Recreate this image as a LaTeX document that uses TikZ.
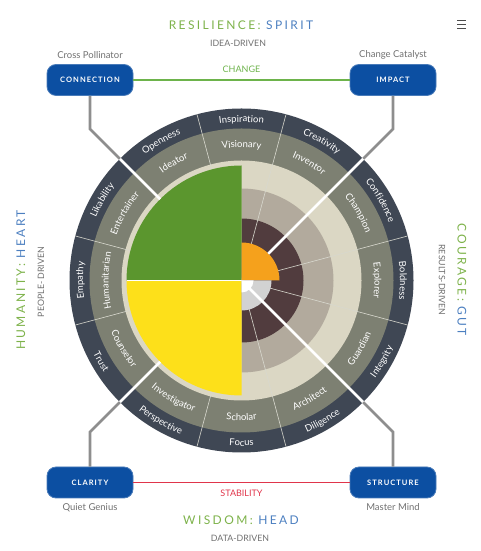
\documentclass[tikz,border=0pt]{standalone}
\usepackage{fontspec}
\setmainfont{Lato}
\newfontfamily\headfont[LetterSpace=20]{Lato}
\newfontfamily\boxfont[LetterSpace=14]{Lato}
\newfontfamily\ringfont[LetterSpace=6]{Lato}
\usetikzlibrary{decorations.text,positioning}

\definecolor{ringnavy}{HTML}{3F4754}
\definecolor{ringsage}{HTML}{7D8072}
\definecolor{ringcream}{HTML}{DBD7C4}
\definecolor{ringtan}{HTML}{B2AA9D}
\definecolor{ringbrown}{HTML}{513C3E}
\definecolor{quadgreen}{HTML}{5B962E}
\definecolor{quadyellow}{HTML}{FDE01A}
\definecolor{quadorange}{HTML}{F5A11C}
\definecolor{quadgrey}{HTML}{D2D2D2}
\definecolor{spokecolor}{HTML}{D8D8CE}
\definecolor{boxblue}{HTML}{0C4FA2}
\definecolor{linkgrey}{HTML}{8E8E8E}
\definecolor{changegreen}{HTML}{6DB34B}
\definecolor{stabred}{HTML}{E0354B}
\definecolor{headgreen}{HTML}{7DB24A}
\definecolor{headblue}{HTML}{4C7FC0}
\definecolor{textgrey}{HTML}{707070}

\tikzset{
  catbox/.style={draw=boxblue!75!white, line width=0.8pt, fill=boxblue,
    rounded corners=9pt, minimum width=86pt, minimum height=31pt,
    text=white, font=\boxfont\bfseries\fontsize{7.5}{8}\selectfont},
  subtitle/.style={text=textgrey, font=\fontsize{9.5}{10}\selectfont, inner sep=1pt},
  capsline/.style={text=textgrey, font=\fontsize{8.8}{10}\selectfont, inner sep=1pt},
  heading/.style={font=\headfont\fontsize{12}{13}\selectfont, inner sep=1pt},
  link/.style={draw=linkgrey, line width=2.6pt},
  innerlink/.style={draw=white, line width=2.6pt},
  spoke/.style={draw=spokecolor, line width=0.6pt},
  ringtext/.style={decorate, decoration={text along path,
    text={|\ringfont\fontsize{9.5}{10}\selectfont|#1}, text align=center, text color=white}}
}

\begin{document}
\begin{tikzpicture}[x=1pt,y=1pt]
\useasboundingbox (0,0) rectangle (480,551);
\coordinate (hub) at (241.5,270.5);

% the wheel
\begin{scope}[shift={(hub)}]
  \fill[ringnavy] (0,0) circle[radius=172];
  \fill[ringsage] (0,0) circle[radius=152];
  \fill[ringcream] (0,0) circle[radius=120];
  \fill[ringtan] (0,0) -- (-90:92) arc[start angle=-90,end angle=90,radius=92] -- cycle;
  \fill[ringbrown] (0,0) -- (-90:62) arc[start angle=-90,end angle=90,radius=62] -- cycle;
  \foreach \ang in {15,45,...,345}
    \draw[spoke] (0,0) -- (\ang:172);
  \fill[quadgreen] (0,0) -- (90:115) arc[start angle=90,end angle=180,radius=115] -- cycle;
  \fill[quadyellow] (0,0) -- (180:115) arc[start angle=180,end angle=270,radius=115] -- cycle;
  \draw[white, line width=0.5pt] (0,0) -- (180:115);
  \fill[quadorange] (0,0) -- (0:38) arc[start angle=0,end angle=90,radius=38] -- cycle;
  \fill[quadgrey] (0,0) -- (270:30) arc[start angle=270,end angle=360,radius=30] -- cycle;
  \fill[white] (0,0) -- (270:12) arc[start angle=270,end angle=360,radius=12] -- cycle;

  % ring words, upper half read clockwise
  \foreach \ang/\word in {180/Empathy,150/Likability,120/Openness,90/Inspiration,
      60/Creativity,30/Confidence,0/Boldness}
    \path[ringtext/.expanded=\word] (\ang+15:158.5) arc[start angle=\ang+15,end angle=\ang-15,radius=158.5];
  \foreach \ang/\word in {180/Humanitarian,150/Entertainer,120/Ideator,90/Visionary,
      60/Inventor,30/Champion,0/Explorer}
    \path[ringtext/.expanded=\word] (\ang+15:133) arc[start angle=\ang+15,end angle=\ang-15,radius=133];
  % lower half read counter-clockwise
  \foreach \ang/\word in {-30/Integrity,-60/Diligence,-90/Focus,-120/Perspective,-150/Trust}
    \path[ringtext/.expanded=\word] (\ang-15:165.5) arc[start angle=\ang-15,end angle=\ang+15,radius=165.5];
  \foreach \ang/\word in {-30/Guardian,-60/Architect,-90/Scholar,-120/Investigator,-150/Counselor}
    \path[ringtext/.expanded=\word] (\ang-15:140) arc[start angle=\ang-15,end angle=\ang+15,radius=140];
\end{scope}

% corner boxes
\node[catbox] (connection) at (90,471) {CONNECTION};
\node[catbox] (impact) at (393,471) {IMPACT};
\node[catbox] (clarity) at (90,68.5) {CLARITY};
\node[catbox] (structure) at (393,68.5) {STRUCTURE};

\node[subtitle, above=4pt of connection] (pollinator) {Cross Pollinator};
\node[subtitle, above=4pt of impact] (catalyst) {Change Catalyst};
\node[subtitle, below=4pt of clarity] (genius) {Quiet Genius};
\node[subtitle, below=4pt of structure] (mastermind) {Master Mind};

\draw[changegreen, line width=1.6pt] (connection) -- node[above=3pt, text=changegreen, font=\fontsize{9}{10}\selectfont] (changelbl) {CHANGE} (impact);
\draw[stabred, line width=1.6pt] (clarity) -- node[below=3pt, text=stabred, font=\fontsize{9}{10}\selectfont] (stablbl) {STABILITY} (structure);

% links into the wheel
\coordinate (cbend) at (90,422);
\coordinate (ibend) at (393,422);
\coordinate (lbend) at (90,119);
\coordinate (sbend) at (393,119);
\coordinate (crim) at ([shift={(135:172)}]hub);
\coordinate (irim) at ([shift={(45:172)}]hub);
\coordinate (lrim) at ([shift={(225:172)}]hub);
\coordinate (srim) at ([shift={(-45:172)}]hub);
\coordinate (cend) at ([shift={(135:115)}]hub);
\coordinate (iend) at ([shift={(45:38)}]hub);
\coordinate (lend) at ([shift={(225:115)}]hub);
\coordinate (send) at ([shift={(-45:10)}]hub);
\draw[link] (connection) -- (cbend) -- (crim);
\draw[link] (impact) -- (ibend) -- (irim);
\draw[link] (clarity) -- (lbend) -- (lrim);
\draw[link] (structure) -- (sbend) -- (srim);
\draw[innerlink] (crim) -- (cend);
\draw[innerlink] (irim) -- (iend);
\draw[innerlink] (lrim) -- (lend);
\draw[innerlink] (srim) -- (send);

% headings
\node[heading] (spirit) at (241,526) {\color{headgreen}RESILIENCE:\ \color{headblue}SPIRIT};
\node[capsline] (idea) at (238,508) {IDEA-DRIVEN};
\node[heading] (head) at (241,31) {\color{headgreen}WISDOM:\ \color{headblue}HEAD};
\node[capsline] (data) at (240,13) {DATA-DRIVEN};
\node[heading, rotate=90] (heart) at (21,271) {\color{headgreen}HUMANITY:\ \color{headblue}HEART};
\node[capsline, rotate=90] (people) at (41,269) {PEOPLE- DRIVEN};
\node[heading, rotate=-90] (gut) at (462,271) {\color{headgreen}COURAGE:\ \color{headblue}GUT};
\node[capsline, rotate=-90] (results) at (442,271) {RESULTS-DRIVEN};

% menu icon
\foreach \yy in {522.5,526.5,530.5}
  \draw[black!70, line width=1.4pt] (457,\yy) -- (466,\yy);
\end{tikzpicture}
\end{document}
